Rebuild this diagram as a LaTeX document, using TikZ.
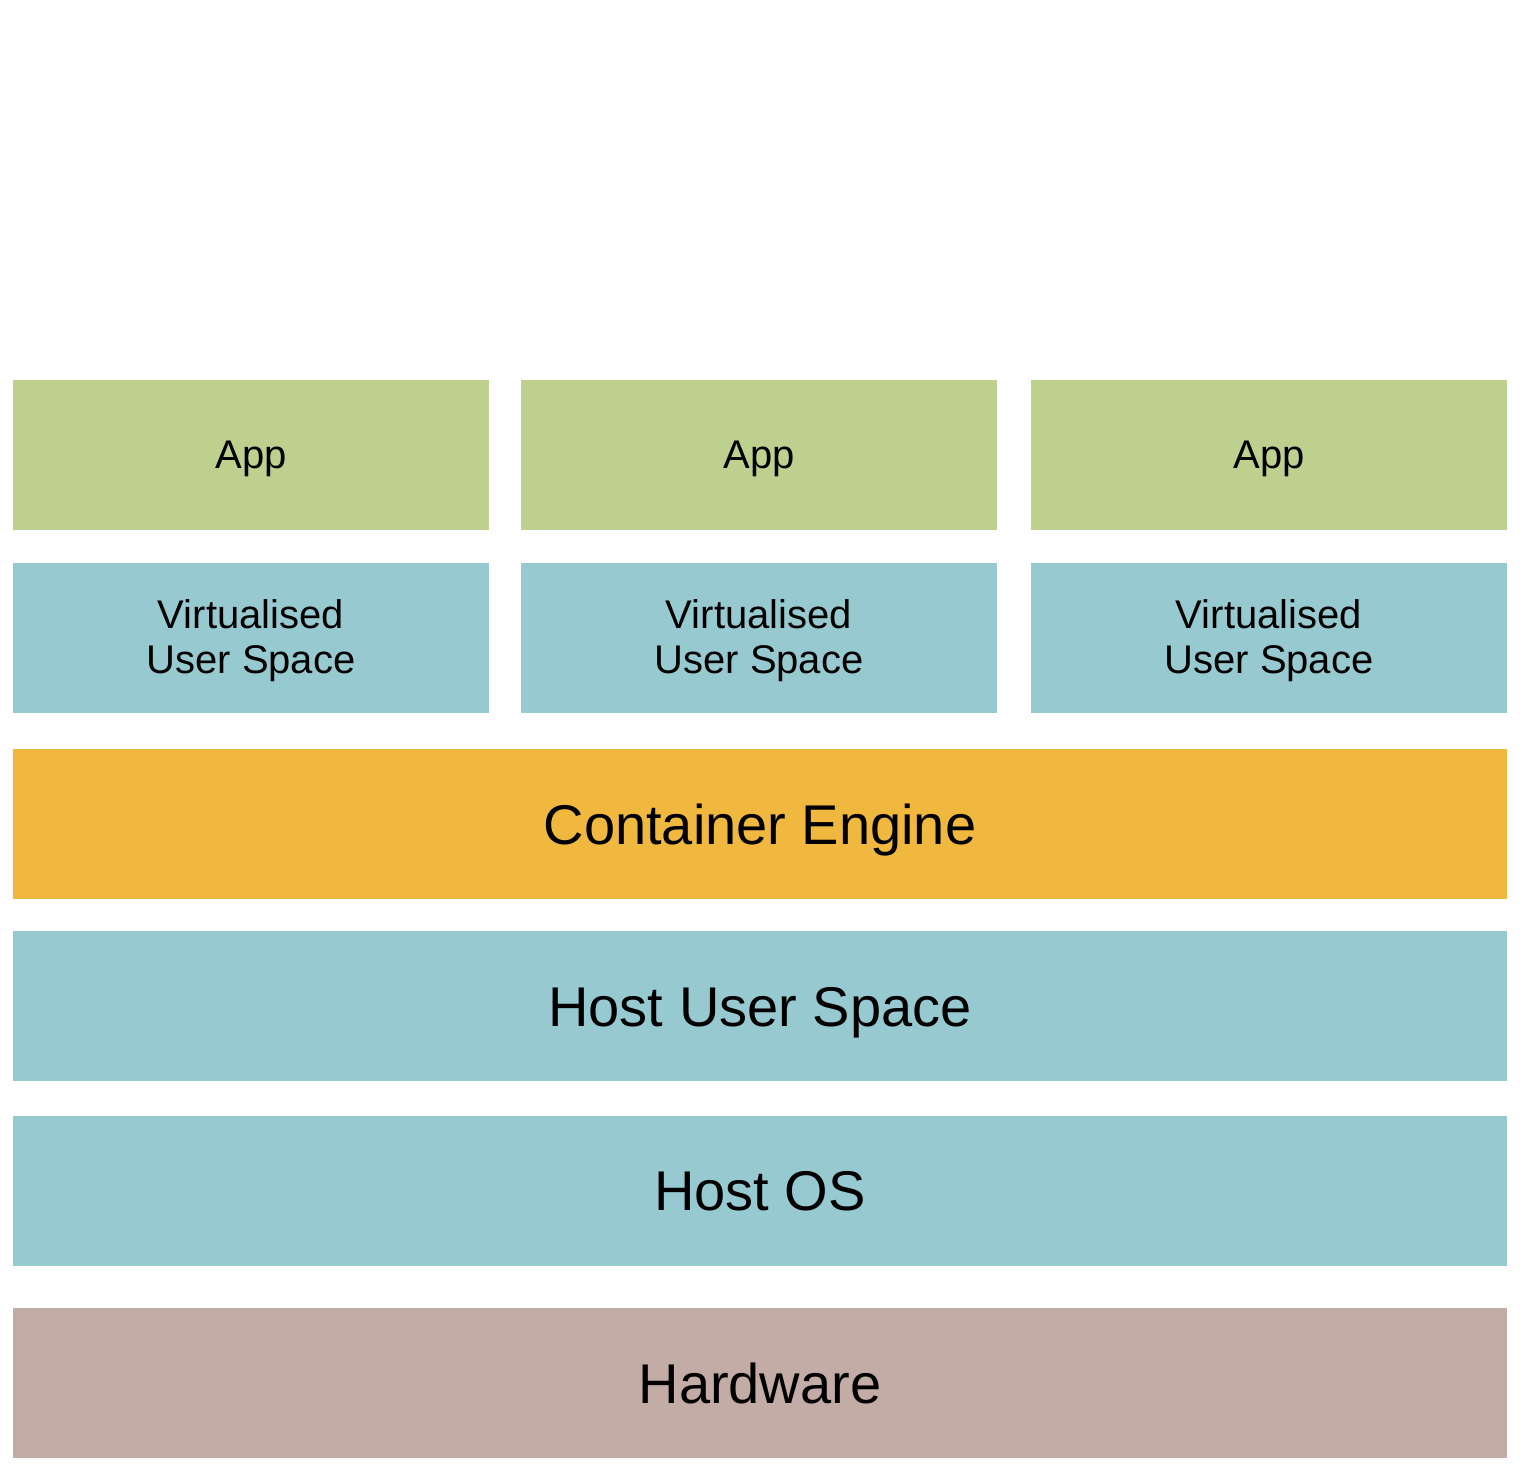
\documentclass[tikz,border=0pt]{standalone}
\usepackage{fontspec}
\setmainfont{Liberation Sans}
\definecolor{appgreen}{HTML}{BED08E}
\definecolor{spaceblue}{HTML}{97CAD0}
\definecolor{engineorange}{HTML}{F0B83E}
\definecolor{hwbrown}{HTML}{C4ACA6}

\begin{document}
\begin{tikzpicture}[x=0.5pt, y=-0.5pt,
        layer/.style={inner sep=0pt, minimum width=747pt, minimum height=75pt, text height=20pt, text depth=0pt, font=\fontsize{28}{32}\selectfont},
        slot/.style={inner sep=0pt, minimum width=238pt, minimum height=75pt, align=center, font=\fontsize{20}{22.5}\selectfont}]
                \useasboundingbox (0,0) rectangle (1520,1466);
                \node[slot, fill=appgreen, text height=14.3pt, text depth=0pt] (appA) at (251,454.5) {App};
                \node[slot, fill=appgreen, text height=14.3pt, text depth=0pt] (appB) at (759,454.5) {App};
                \node[slot, fill=appgreen, text height=14.3pt, text depth=0pt] (appC) at (1269,454.5) {App};
                \node[slot, fill=spaceblue, text depth=1.2pt] (userA) at (251,638) {Virtualised\\User Space};
                \node[slot, fill=spaceblue, text depth=1.2pt] (userB) at (759,638) {Virtualised\\User Space};
                \node[slot, fill=spaceblue, text depth=1.2pt] (userC) at (1269,638) {Virtualised\\User Space};
                \node[layer, fill=engineorange] (engine) at (760,824) {Container Engine};
                \node[layer, fill=spaceblue] (hostuser) at (760,1006) {Host User Space};
                \node[layer, fill=spaceblue] (hostos) at (760,1190.5) {Host OS};
                \node[layer, fill=hwbrown] (hardware) at (760,1383) {Hardware};
            \end{tikzpicture}
\end{document}
